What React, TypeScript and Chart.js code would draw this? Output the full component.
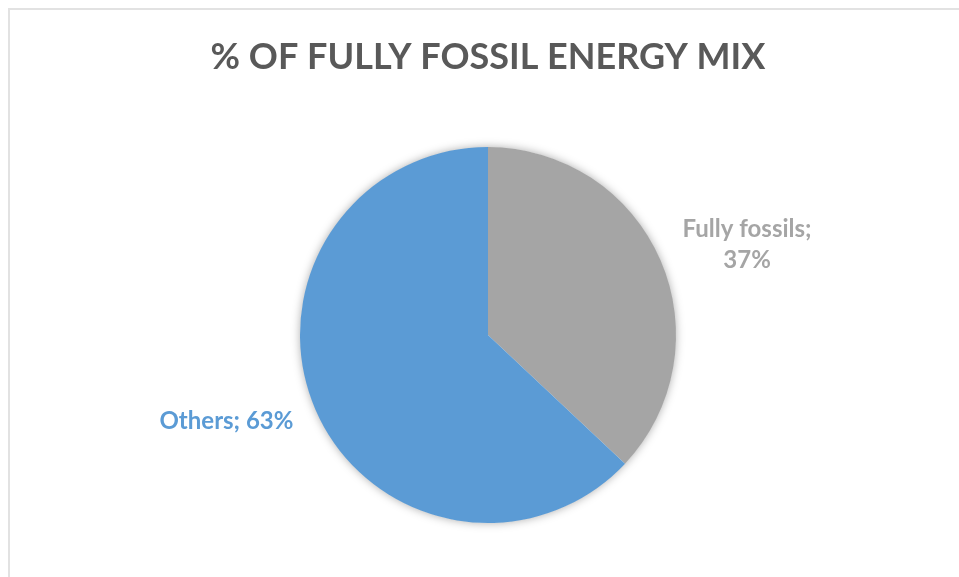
import React, { useEffect, useRef } from "react";
import { Chart, registerables } from "chart.js";

Chart.register(...registerables);

const categories = ["Fully fossils", "Others"];
const shares = [37, 63];
const colors = ["#a5a5a5", "#5b9bd5"];
const labelLines = [["Fully fossils;", "37%"], ["Others; 63%"]];
const titleText = "% OF FULLY FOSSIL ENERGY MIX";

const W = 959;
const H = 577;

const shadowPlugin = {
  id: "pieShadow",
  beforeDatasetsDraw(chart: any) {
    const meta = chart.getDatasetMeta(0);
    const arc = meta.data[0];
    if (!arc) return;
    const { x, y, outerRadius } = arc.getProps(["x", "y", "outerRadius"], true);
    const ctx = chart.ctx;
    ctx.save();
    ctx.shadowColor = "rgba(0,0,0,0.35)";
    ctx.shadowBlur = 10;
    ctx.shadowOffsetX = 0;
    ctx.shadowOffsetY = 0;
    ctx.fillStyle = "#ffffff";
    ctx.beginPath();
    ctx.arc(x, y, outerRadius - 0.5, 0, Math.PI * 2);
    ctx.fill();
    ctx.restore();
  },
};

const labelPlugin = {
  id: "outsideLabels",
  afterDatasetsDraw(chart: any) {
    const ctx = chart.ctx;
    // title
    ctx.save();
    ctx.font = "bold 36px Lato";
    ctx.fillStyle = "#595959";
    ctx.textAlign = "center";
    ctx.textBaseline = "alphabetic";
    ctx.fillText(titleText, 488, 69);
    ctx.restore();

    const meta = chart.getDatasetMeta(0);
    meta.data.forEach((arc: any, i: number) => {
      const { x, y, startAngle, endAngle, outerRadius } = arc.getProps(
        ["x", "y", "startAngle", "endAngle", "outerRadius"],
        true
      );
      const mid = (startAngle + endAngle) / 2;
      const d = outerRadius + 24;
      const ax = x + Math.cos(mid) * d;
      const ay = y + Math.sin(mid) * d;
      const lines = labelLines[i];
      ctx.save();
      ctx.font = "bold 24px Lato";
      ctx.fillStyle = colors[i];
      ctx.textBaseline = "middle";
      ctx.textAlign = "center";
      const bw = Math.max(...lines.map((l: string) => ctx.measureText(l).width));
      const lh = 31;
      const bh = lh * lines.length;
      const left = Math.cos(mid) >= 0 ? ax : ax - bw;
      const top = ay - bh / 2 + (lines.length > 1 ? -6 : 2);
      lines.forEach((l: string, k: number) => {
        ctx.fillText(l, left + bw / 2, top + lh * k + lh / 2);
      });
      ctx.restore();
    });
  },
};

export default function App() {
  const ref = useRef<HTMLCanvasElement | null>(null);
  useEffect(() => {
    if (!ref.current) return;
    const chart = new Chart(ref.current, {
      type: "pie",
      data: {
        labels: categories,
        datasets: [
          {
            data: shares,
            backgroundColor: colors,
            borderWidth: 0,
          },
        ],
      },
      options: {
        responsive: false,
        animation: false,
        layout: { padding: { left: 300, right: 283, top: 147, bottom: 54 } },
        plugins: {
          legend: { display: false },
          title: { display: false },
          tooltip: { enabled: false },
        },
      },
      plugins: [shadowPlugin, labelPlugin],
    });
    return () => chart.destroy();
  }, []);
  return (
    <div>
      <div
        style={{
          position: "fixed",
          left: 8,
          top: 8,
          width: W + 20,
          height: H + 20,
          borderTop: "2px solid #e2e2e2",
          borderLeft: "2px solid #e2e2e2",
          boxSizing: "border-box",
        }}
      />
      <canvas
        ref={ref}
        width={W}
        height={H}
        style={{ position: "fixed", left: 0, top: 0, width: W, height: H }}
      />
    </div>
  );
}
